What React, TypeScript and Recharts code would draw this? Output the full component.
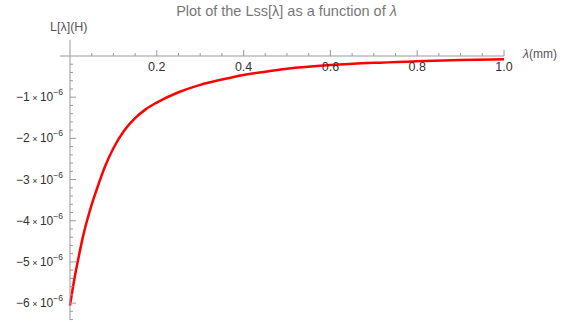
import React from "react";
import { LineChart, Line, XAxis, YAxis, ReferenceLine } from "recharts";

// wavelength (mm) and self-inductance L (H)
const lambdaMm = [
  0, 0.01, 0.02, 0.03, 0.04, 0.05, 0.06, 0.08, 0.1, 0.125, 0.15, 0.175, 0.2,
  0.25, 0.3, 0.35, 0.4, 0.45, 0.5, 0.6, 0.7, 0.8, 0.9, 1.0,
];
const inductanceH = [
  -6.06e-6, -5.42e-6, -4.88e-6, -4.38e-6, -3.97e-6, -3.61e-6, -3.29e-6,
  -2.7e-6, -2.24e-6, -1.81e-6, -1.51e-6, -1.29e-6, -1.13e-6, -0.88e-6,
  -0.7e-6, -0.57e-6, -0.46e-6, -0.38e-6, -0.31e-6, -0.22e-6, -0.165e-6,
  -0.13e-6, -0.1e-6, -0.08e-6,
];

const xMajorTicks = [0.2, 0.4, 0.6, 0.8, 1.0];
const xTicks = [
  0.05, 0.1, 0.15, 0.2, 0.25, 0.3, 0.35, 0.4, 0.45, 0.5, 0.55, 0.6, 0.65, 0.7,
  0.75, 0.8, 0.85, 0.9, 0.95, 1.0,
];
const yMajorTicks = [-1e-6, -2e-6, -3e-6, -4e-6, -5e-6, -6e-6];
const yTicks = [
  -0.2e-6, -0.4e-6, -0.6e-6, -0.8e-6, -1e-6, -1.2e-6, -1.4e-6, -1.6e-6,
  -1.8e-6, -2e-6, -2.2e-6, -2.4e-6, -2.6e-6, -2.8e-6, -3e-6, -3.2e-6, -3.4e-6,
  -3.6e-6, -3.8e-6, -4e-6, -4.2e-6, -4.4e-6, -4.6e-6, -4.8e-6, -5e-6, -5.2e-6,
  -5.4e-6, -5.6e-6, -5.8e-6, -6e-6, -6.2e-6, -6.4e-6,
];

const data = lambdaMm.map((x, i) => ({ x, y: inductanceH[i] }));

const AXIS = "#9a9a9a";
const LABEL = "#333";
const FONT = "'Liberation Sans', Arial, sans-serif";

const isMajor = (list: number[], v: number) =>
  list.some((m) => Math.abs(m - v) <= 1e-9 * Math.abs(m));

function XTick(props: any) {
  const { x, y, payload } = props;
  const major = isMajor(xMajorTicks, payload.value);
  return (
    <g>
      <line x1={x} y1={y} x2={x} y2={y - (major ? 6 : 3)} stroke={AXIS} />
      {major && (
        <text x={x} y={y + 15} textAnchor="middle" fontSize={12.5} fill={LABEL} fontFamily={FONT}>
          {payload.value.toFixed(1)}
        </text>
      )}
    </g>
  );
}

function YTick(props: any) {
  const { x, y, payload } = props;
  const major = isMajor(yMajorTicks, payload.value);
  const n = Math.round(payload.value / 1e-6);
  return (
    <g>
      <line x1={x} y1={y} x2={x + (major ? 6 : 3)} y2={y} stroke={AXIS} />
      {major && (
        <text x={x - 7} y={y + 4} textAnchor="end" fontSize={12} fill={LABEL} fontFamily={FONT}>
          {`\u2212${Math.abs(n)}`}
          <tspan fontSize={9}>{" \u00d7 "}</tspan>
          {"10"}
          <tspan dy={-6} fontSize={8.5}>
            {"\u22126"}
          </tspan>
        </text>
      )}
    </g>
  );
}

export default function App() {
  return (
    <div style={{ position: "relative", width: 567, height: 322, fontFamily: FONT }}>
      <style>{"body { margin: 0; }"}</style>
      <LineChart
        width={567}
        height={322}
        data={data}
        margin={{ top: 36, right: 63, bottom: 2, left: 10 }}
      >
        <XAxis
          type="number"
          dataKey="x"
          orientation="top"
          domain={[0, 1]}
          ticks={xTicks}
          interval={0}
          height={20}
          tickSize={0}
          tickMargin={0}
          tickLine={false}
          axisLine={{ stroke: AXIS }}
          tick={<XTick />}
        />
        <YAxis
          type="number"
          domain={[-6.41e-6, 0]}
          ticks={yTicks}
          interval={0}
          width={60}
          tickSize={0}
          tickMargin={0}
          tickLine={false}
          axisLine={{ stroke: AXIS }}
          tick={<YTick />}
        />
        {/* axis stubs running past the origin */}
        <ReferenceLine
          segment={[{ x: -0.023, y: 0 }, { x: 0, y: 0 }]}
          stroke={AXIS}
          ifOverflow="visible"
        />
        <ReferenceLine
          segment={[{ x: 0, y: 0 }, { x: 0, y: 0.39e-6 }]}
          stroke={AXIS}
          ifOverflow="visible"
        />
        <Line
          type="monotone"
          dataKey="y"
          stroke="#ff0000"
          strokeWidth={2.5}
          dot={false}
          isAnimationActive={false}
        />
      </LineChart>
      <div style={{ position: "absolute", left: 0, width: 573, top: 3, textAlign: "center", fontSize: 14.5, color: "#777" }}>
        Plot of the Lss[λ] as a function of <i>λ</i>
      </div>
      <div style={{ position: "absolute", left: 50, top: 20, fontSize: 12.5, color: "#555" }}>L[λ](H)</div>
      <div style={{ position: "absolute", left: 523, top: 47, fontSize: 12, color: "#555" }}>
        <i>λ</i>(mm)
      </div>
    </div>
  );
}
